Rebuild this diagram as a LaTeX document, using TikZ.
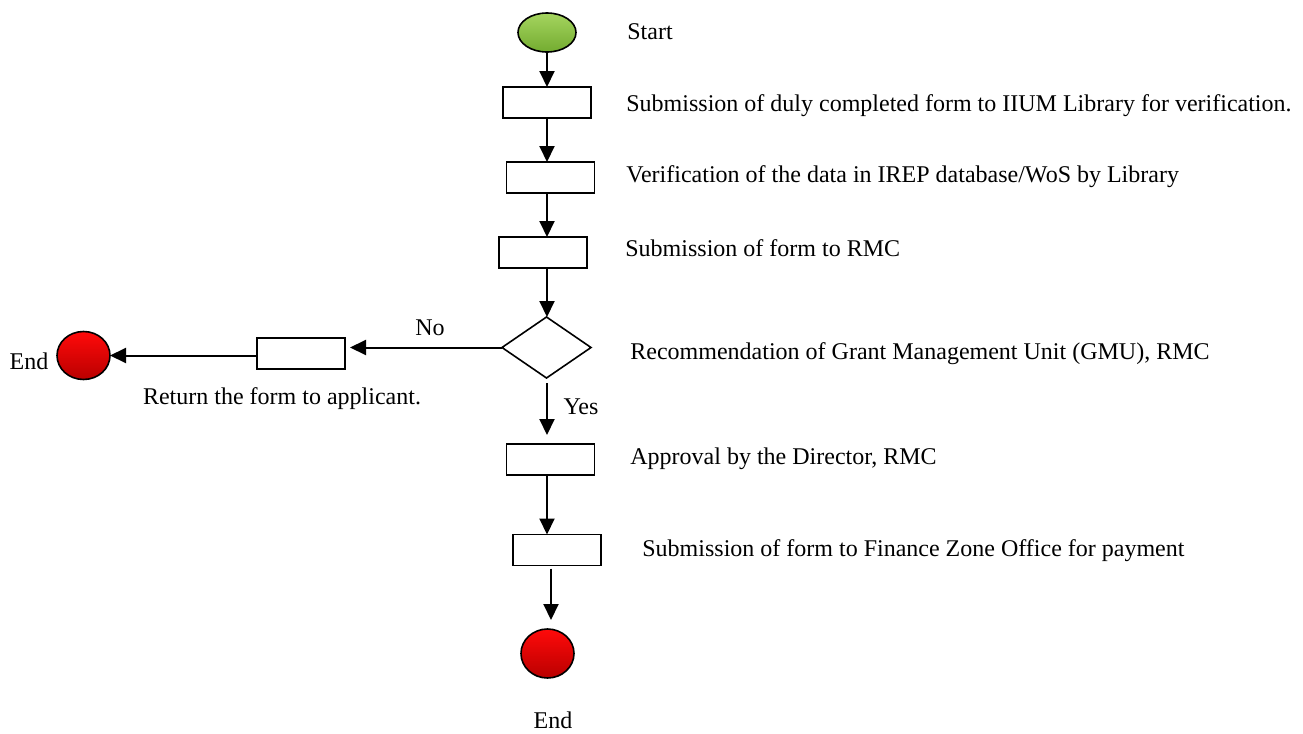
\documentclass[tikz,border=0pt]{standalone}
\usepackage{fontspec}
\setmainfont{Liberation Serif}
\usetikzlibrary{shapes.geometric,arrows.meta}

\tikzset{
	stepbox/.style={draw,line width=0.8pt,fill=white,inner sep=0,outer sep=0,minimum width=44pt,minimum height=15.5pt},
	choice/.style={draw,diamond,line width=0.8pt,inner sep=0,outer sep=0,minimum width=44.5pt,minimum height=30.5pt},
	startnode/.style={draw,ellipse,line width=0.8pt,inner sep=0,outer sep=0,minimum width=29pt,minimum height=19.5pt,top color={rgb,255:red,165;green,212;blue,95},bottom color={rgb,255:red,115;green,172;blue,48}},
	endnode/.style={draw,ellipse,line width=0.8pt,inner sep=0,outer sep=0,minimum width=26.5pt,minimum height=24pt,top color={rgb,255:red,255;green,10;blue,10},bottom color={rgb,255:red,185;green,0;blue,0}},
	txt/.style={anchor=west,inner sep=0},
	flow/.style={->,line width=1pt}
}

\begin{document}
\begin{tikzpicture}[x=0.5pt,y=-0.5pt,font=\fontsize{12}{14}\selectfont,>={Triangle[width=7.5pt,length=8pt]}]
	\useasboundingbox (0,0) rectangle (1303,734);
	\node[startnode] (0) at (547,32.5) {};
	\node[stepbox] (1) at (547,102.5) {};
	\node[stepbox] (2) at (550.5,177.5) {};
	\node[stepbox] (3) at (543,252.5) {};
	\node[choice] (4) at (546.5,347.5) {};
	\node[stepbox] (5) at (301,353.5) {};
	\node[endnode] (6) at (83.5,355.5) {};
	\node[stepbox] (7) at (550.5,459.5) {};
	\node[stepbox] (8) at (557,550) {};
	\node[endnode,minimum height=24.5pt] (9) at (547.5,653.5) {};
	% texts
	\node[txt] (t0) at (627,32) {Start};
	\node[txt] (t1) at (626,106) {Submission of duly completed form to IIUM Library for verification.};
	\node[txt] (t2) at (626,177) {Verification of the data in IREP database/WoS by Library};
	\node[txt] (t3) at (625,248) {Submission of form to RMC};
	\node[txt] (t4) at (630,354) {Recommendation of Grant Management Unit (GMU), RMC};
	\node[txt] (t7) at (630,459) {Approval by the Director, RMC};
	\node[txt] (t8) at (642,551) {Submission of form to Finance Zone Office for payment};
	\node (t5) at (282,399) {Return the form to applicant.};
	\node (t6) at (29,361) {End};
	\node (t9) at (553,720) {End};
	\node (no) at (430,328) {No};
	\node (yes) at (581,407) {Yes};
	% connectors
	\draw[flow] (0) -- (0 |- 1.north);
	\draw[flow] (1) -- (1 |- 2.north);
	\draw[flow] (1 |- 2.south) -- (1 |- 3.north);
	\draw[flow] (1 |- 3.south) -- (1 |- 4.north);
	\draw[flow,shorten <=2.5pt,shorten >=4.5pt] (1 |- 4.south) -- (1 |- 7.north);
	\draw[flow] (1 |- 7.south) -- (1 |- 8.north);
	\draw[flow,shorten <=1.5pt,shorten >=4.5pt] ([xshift=-3pt]8.south) -- ([xshift=-3pt]8.south |- 9.north);
	\draw[flow,shorten >=2.5pt] (4.west) -- (5.east |- 4.west);
	\draw[flow] (5.west |- 6.east) -- (6.east);
\end{tikzpicture}
\end{document}
